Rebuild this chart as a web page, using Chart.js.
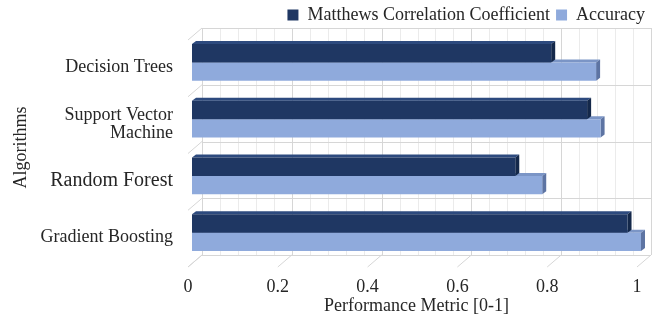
<!DOCTYPE html>
<html>
<head>
<meta charset="utf-8">
<script src="https://cdn.jsdelivr.net/npm/chart.js@4/dist/chart.umd.min.js"></script>
<style>
  html, body { margin: 0; padding: 0; background: #ffffff; }
  #wrap { width: 661px; height: 322px; }
</style>
</head>
<body>
<div id="wrap"><canvas id="chart" width="661" height="322"></canvas></div>
<script>
// Algorithms compared and their scores
const categories = ['Decision Trees', ['Support Vector', 'Machine'], 'Random Forest', 'Gradient Boosting'];
const mccValues = [0.80, 0.88, 0.72, 0.97];
const accuracyValues = [0.90, 0.91, 0.78, 1.00];
const xTicks = [0, 0.2, 0.4, 0.6, 0.8, 1];

// Styling
const SERIF = '"Liberation Serif", "DejaVu Serif"';
const TEXT = '#262626';
const MCC_FRONT = '#1f3763', MCC_TOP = '#2d4a7e', MCC_SIDE = '#14284a';
const ACC_FRONT = '#8faadc', ACC_TOP = '#7b95c6', ACC_SIDE = '#5d74a3';
const GRID_MAJOR = '#d6d6d6', GRID_MINOR = '#ebebeb';
const BAR_DX = 4, BAR_DY = 3;          // depth of each bar
const BACK = { dx: 10, dy: -6 };       // back wall offset from the bar plane
const FRONT = { dx: -4, dy: 6 };       // front edge of the floor / side wall
const tickFontSizes = { 'Random Forest': 20 };

function polygon(ctx, pts) {
  ctx.beginPath();
  ctx.moveTo(pts[0][0], pts[0][1]);
  for (let i = 1; i < pts.length; i++) ctx.lineTo(pts[i][0], pts[i][1]);
  ctx.closePath();
  ctx.fill();
}

function line(ctx, x1, y1, x2, y2) {
  ctx.beginPath();
  ctx.moveTo(x1, y1);
  ctx.lineTo(x2, y2);
  ctx.stroke();
}

// Walls, floor and bar depth drawn behind the bar faces
const perspective = {
  id: 'perspective',
  afterLayout(chart) {
    chart.legend.left += 10;
    chart.legend.right += 10;
  },
  beforeDatasetsDraw(chart) {
    const ctx = chart.ctx;
    const xs = chart.scales.x, ys = chart.scales.y;
    const { top, bottom } = chart.chartArea;
    const x0 = xs.getPixelForValue(0), x1 = xs.getPixelForValue(1);
    ctx.save();
    ctx.lineWidth = 1;

    // minor vertical lines on back wall
    ctx.strokeStyle = GRID_MINOR;
    const minorStep = (xTicks[1] - xTicks[0]) / 5;
    for (let i = 0; i <= Math.round(1 / minorStep); i++) {
      const px = Math.round(xs.getPixelForValue(i * minorStep) + BACK.dx) + 0.5;
      line(ctx, px, top + BACK.dy, px, bottom + BACK.dy);
    }
    // major vertical lines on back wall and floor diagonals
    ctx.strokeStyle = GRID_MAJOR;
    xTicks.forEach(v => {
      const px = xs.getPixelForValue(v);
      const bx = Math.round(px + BACK.dx) + 0.5;
      line(ctx, bx, top + BACK.dy, bx, bottom + BACK.dy);
      line(ctx, px + FRONT.dx, bottom + FRONT.dy, px + BACK.dx, bottom + BACK.dy);
    });
    // horizontal lines at category boundaries and side wall diagonals
    for (let i = 0; i <= categories.length; i++) {
      const py = ys.getPixelForValue(i - 0.5);
      const by = Math.round(py + BACK.dy) + 0.5;
      line(ctx, x0 + BACK.dx, by, x1 + BACK.dx, by);
      line(ctx, x0 + FRONT.dx, py + FRONT.dy, x0 + BACK.dx, py + BACK.dy);
    }

    // bar tops then bar ends
    const metas = chart.data.datasets.map((ds, i) => ({ ds, meta: chart.getDatasetMeta(i) }));
    ['topColor', 'sideColor'].forEach(face => {
      metas.forEach(({ ds, meta }) => {
        ctx.fillStyle = ds[face];
        meta.data.forEach(bar => {
          const { x, y, base, height } = bar.getProps(['x', 'y', 'base', 'height'], true);
          const t = y - height / 2, b = y + height / 2;
          if (face === 'topColor') {
            polygon(ctx, [[base, t], [x, t], [x + BAR_DX, t - BAR_DY], [base + BAR_DX, t - BAR_DY]]);
          } else {
            polygon(ctx, [[x, t], [x + BAR_DX, t - BAR_DY], [x + BAR_DX, b - BAR_DY], [x, b]]);
          }
        });
      });
    });
    ctx.restore();
  }
};

new Chart(document.getElementById('chart'), {
  type: 'bar',
  data: {
    labels: categories,
    datasets: [
      {
        label: 'Matthews Correlation Coefficient',
        data: mccValues,
        backgroundColor: MCC_FRONT,
        topColor: MCC_TOP,
        sideColor: MCC_SIDE,
        borderWidth: 0,
        categoryPercentage: 0.65,
        barPercentage: 1.0
      },
      {
        label: 'Accuracy',
        data: accuracyValues,
        backgroundColor: ACC_FRONT,
        topColor: ACC_TOP,
        sideColor: ACC_SIDE,
        borderWidth: 0,
        categoryPercentage: 0.65,
        barPercentage: 1.0
      }
    ]
  },
  options: {
    indexAxis: 'y',
    responsive: false,
    animation: false,
    devicePixelRatio: 1,
    layout: { padding: { top: 0, right: 20, bottom: 0, left: 0 } },
    plugins: {
      legend: {
        position: 'top',
        align: 'end',
        labels: {
          boxWidth: 11,
          boxHeight: 11,
          padding: 6,
          color: TEXT,
          font: { family: SERIF, size: 18 }
        }
      },
      tooltip: { enabled: false }
    },
    scales: {
      x: {
        min: 0,
        max: 1,
        afterBuildTicks: s => { s.ticks = xTicks.map(v => ({ value: v })); },
        ticks: {
          padding: 7,
          labelOffset: -4,
          color: TEXT,
          font: { family: SERIF, size: 18 },
          callback: v => String(v)
        },
        grid: { display: false },
        border: { display: false },
        title: {
          display: true,
          text: 'Performance Metric [0-1]',
          color: TEXT,
          font: { family: SERIF, size: 18 },
          padding: { top: 0, bottom: 5 }
        },
        afterFit: s => { s.height = 61; }
      },
      y: {
        ticks: {
          padding: 11,
          labelOffset: 5,
          color: TEXT,
          font: ctx => ({ family: SERIF, size: (ctx.tick && tickFontSizes[ctx.tick.label]) || 18, lineHeight: 1 })
        },
        grid: { display: false },
        border: { display: false },
        title: {
          display: true,
          text: 'Algorithms',
          color: TEXT,
          font: { family: SERIF, size: 18 },
          padding: { top: 10, bottom: 0 }
        },
        afterFit: s => { s.width = 192; }
      }
    }
  },
  plugins: [perspective]
});
</script>
</body>
</html>
